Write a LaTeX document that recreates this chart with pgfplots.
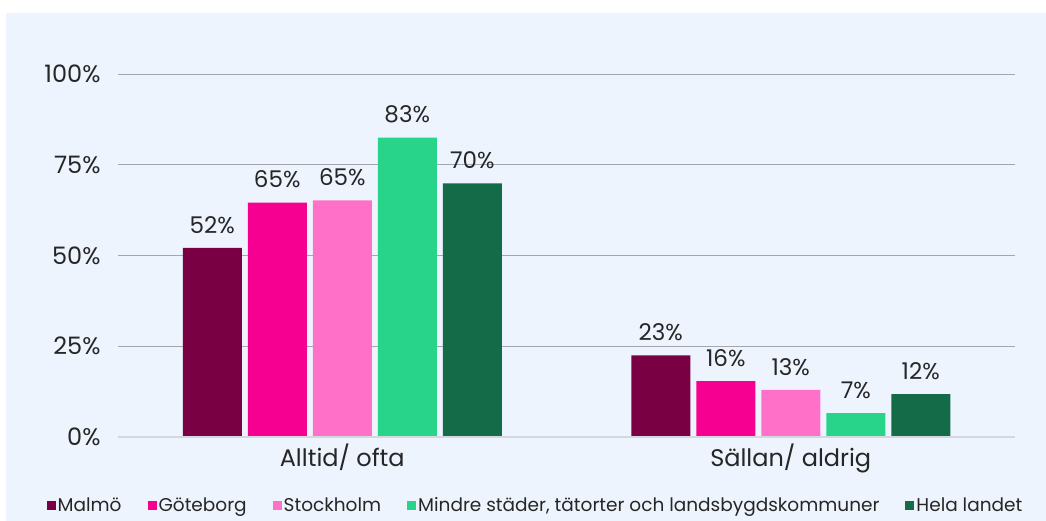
\documentclass[border=0pt]{standalone}
\usepackage{pgfplots}
\pgfplotsset{compat=1.18}
\usepackage{pgfplotstable}
\usepackage{fontspec}
\setmainfont{Poppins}
\definecolor{bg}{HTML}{EDF4FD}
\definecolor{cA}{HTML}{780043}
\definecolor{cB}{HTML}{F50091}
\definecolor{cC}{HTML}{FF70C8}
\definecolor{cD}{HTML}{28D38A}
\definecolor{cE}{HTML}{146B47}
\definecolor{txt}{HTML}{262626}
\definecolor{gridc}{HTML}{A3A6AE}
\definecolor{basec}{HTML}{D3D7DF}

\pgfplotstableread{
x y l
0 52.1 52
1 22.5 23
}\malmo
\pgfplotstableread{
x y l
0 64.6 65
1 15.4 16
}\gbg
\pgfplotstableread{
x y l
0 65.2 65
1 13.0 13
}\sthlm
\pgfplotstableread{
x y l
0 82.5 83
1 6.6 7
}\mindre
\pgfplotstableread{
x y l
0 69.9 70
1 11.8 12
}\hela

\begin{document}
\begin{tikzpicture}[x=1pt,y=1pt]
\path[use as bounding box] (0,0) rectangle (1046,-521);
\fill[white] (0,0) rectangle (1046,-521);
\fill[bg] (6,-13) rectangle (1046,-521);
\begin{axis}[
  at={(118pt,-437pt)}, anchor=south west,
  scale only axis, width=897pt, height=363pt,
  xmin=-0.5, xmax=1.5, ymin=0, ymax=100,
  ybar=6pt, bar width=59pt,
  axis line style={draw=none},
  axis x line*=bottom,
  xtick={0,1}, xticklabels={Alltid/ ofta, Sällan/ aldrig},
  major tick length=0pt,
  ytick={0,25,50,75,100},
  yticklabels={0\%,25\%,50\%,75\%,100\%},
  ymajorgrids, grid style={gridc, line width=0.9pt},
  tick label style={font=\fontsize{24}{28}\selectfont, text=txt},
  yticklabel style={xshift=-14pt},
  xticklabel style={yshift=-3pt},
  /pgf/number format/assume math mode=true,
  point meta=explicit symbolic,
  nodes near coords={\pgfplotspointmeta\%},
  nodes near coords style={font=\fontsize{23}{27}\selectfont, text=txt, anchor=south, yshift=11pt},
  every axis plot/.append style={draw=none},
  legend columns=-1,
  legend style={at={(0.5,0)}, anchor=center, xshift=-31pt, yshift=-68pt,
     draw=none, fill=none,
     font=\fontsize{18.5}{22}\selectfont, text=txt,
     /tikz/every even column/.append style={column sep=24pt},
     /tikz/every odd column/.append style={column sep=0pt}},
  legend image code/.code={\fill[#1] (0pt,-4.5pt) rectangle (9pt,4.5pt);},
  clip=false,
]
\addplot[fill=cA] table[x=x,y=y,meta=l]{\malmo};
\addplot[fill=cB] table[x=x,y=y,meta=l]{\gbg};
\addplot[fill=cC] table[x=x,y=y,meta=l]{\sthlm};
\addplot[fill=cD] table[x=x,y=y,meta=l]{\mindre};
\addplot[fill=cE] table[x=x,y=y,meta=l]{\hela};
\draw[basec, line width=1.5pt] (axis cs:-0.5,0) -- (axis cs:1.5,0);
\legend{Malmö, Göteborg, Stockholm, {Mindre städer, tätorter och landsbygdskommuner}, Hela landet}
\end{axis}
\end{tikzpicture}
\end{document}
